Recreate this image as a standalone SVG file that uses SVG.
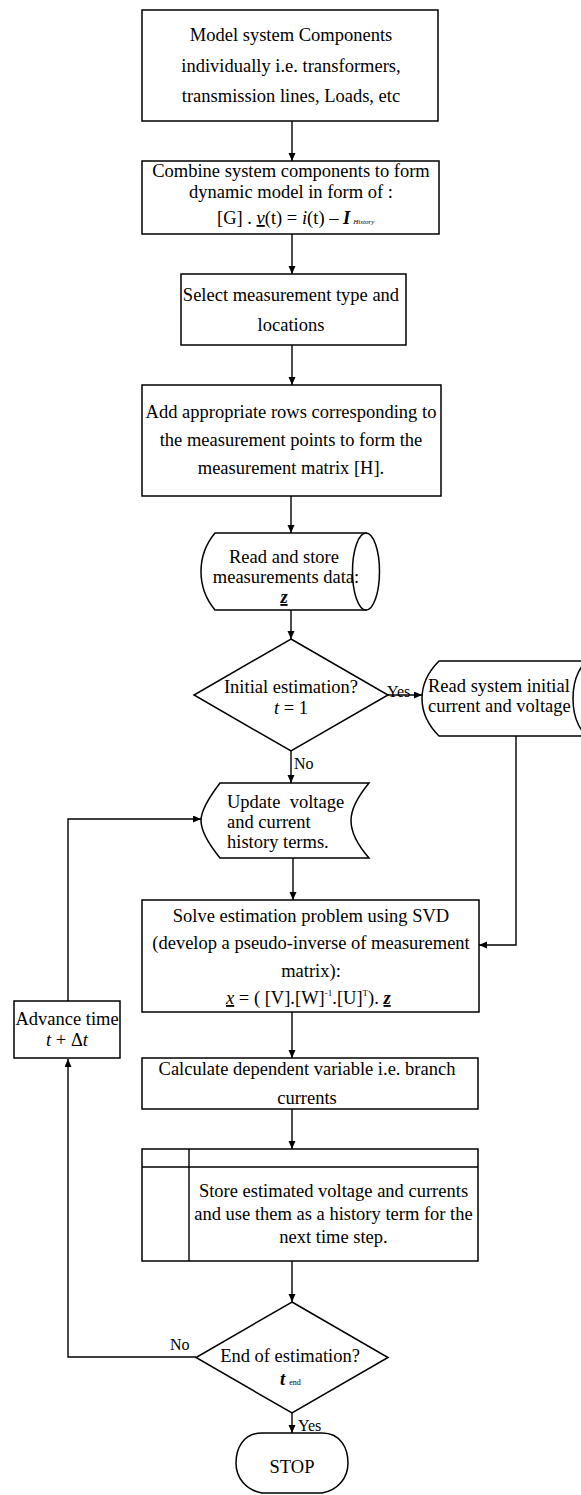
<svg xmlns="http://www.w3.org/2000/svg" width="581" height="1495" viewBox="0 0 581 1495">
<style>
.s{fill:#fff;stroke:#000;stroke-width:1.5}
.c{fill:none;stroke:#000;stroke-width:1.4}
text{font-family:"Liberation Serif","Times New Roman",serif;font-size:18.5px;fill:#000}
.m{text-anchor:middle}
.sm{font-size:16px}
.i{font-style:italic}
</style>
<defs>
<marker id="ah" markerWidth="9" markerHeight="8" refX="8" refY="3.5" orient="auto" markerUnits="userSpaceOnUse">
<path d="M0,0 L8,3.5 L0,7 Z" fill="#000"/>
</marker>
</defs>
<rect width="581" height="1495" fill="#fff"/>

<g id="connectors" class="c" marker-end="url(#ah)">
<path d="M292,121 V161"/>
<path d="M292,234 V274"/>
<path d="M292,345 V385"/>
<path d="M291,496 V533"/>
<path d="M291,610 V639"/>
<path d="M388,695 H422"/>
<path d="M291,751 V783"/>
<path d="M516,736 V945 H479"/>
<path d="M68,1001 V819 H201"/>
<path d="M293,858 V900"/>
<path d="M292,1012 V1058"/>
<path d="M292,1109 V1149"/>
<path d="M292,1261 V1302"/>
<path d="M196,1357 H68 V1059"/>
<path d="M292,1413 V1433"/>
</g>

<g id="n1">
<rect class="s" x="142" y="10" width="296" height="111"/>
<text class="m" x="291" y="41">Model system Components</text>
<text class="m" x="291" y="72">individually i.e. transformers,</text>
<text class="m" x="291" y="102">transmission lines, Loads, etc</text>
</g>

<g id="n2">
<rect class="s" x="142" y="161" width="297" height="73"/>
<text class="m" x="291" y="177">Combine system components to form</text>
<text class="m" x="291" y="198">dynamic model in form of :</text>
<text x="217" y="224">[G] . <tspan class="i" text-decoration="underline">v</tspan>(t) = <tspan class="i">i</tspan>(t) – <tspan class="i" font-weight="bold">I</tspan><tspan class="i" font-size="7" dx="3">History</tspan></text>
</g>

<g id="n3">
<rect class="s" x="181" y="274" width="225" height="71"/>
<text class="m" x="291" y="301" font-size="16.5">Select measurement type and</text>
<text class="m" x="291" y="331" font-size="16.5">locations</text>
</g>

<g id="n4">
<rect class="s" x="142" y="385" width="299" height="111"/>
<text class="m" x="291" y="418">Add appropriate rows corresponding to</text>
<text class="m" x="291" y="446">the measurement points to form the</text>
<text class="m" x="291" y="474">measurement matrix [H].</text>
</g>

<g id="n5">
<path class="s" d="M215,533 H366 V610 H215 C205,598 201,583 201,571.5 C201,560 205,545 215,533 Z"/>
<ellipse class="s" cx="366" cy="571.5" rx="13.5" ry="38.5"/>
<text class="m" x="284" y="563">Read and store</text>
<text class="m" x="286" y="583">measurements data:</text>
<text class="m i" x="284" y="603" text-decoration="underline" font-weight="bold">z</text>
</g>

<g id="n6">
<path class="s" d="M291,639 L388,695 L291,751 L194,695 Z"/>
<text class="m" x="291" y="693">Initial estimation?</text>
<text class="m" x="291" y="714"><tspan class="i">t</tspan> = 1</text>
</g>

<g id="n7">
<path class="s" d="M439,661 H600 V736 H439 C428,725 422,712 422,698.5 C422,685 428,672 439,661 Z"/>
<ellipse class="s" cx="592" cy="698.5" rx="19" ry="37.5"/>
<text x="428" y="692">Read system initial</text>
<text x="428" y="712">current and voltage</text>
</g>

<g id="n8">
<path class="s" d="M220,783 H369 C355,800 351,812 351,820.5 C351,830 355,842 369,858 H220 C207,842 201,830 201,820.5 C201,812 207,800 220,783 Z"/>
<text x="227" y="808" xml:space="preserve">Update  voltage</text>
<text x="227" y="828">and current</text>
<text x="227" y="848">history terms.</text>
</g>

<g id="n9">
<rect class="s" x="142" y="900" width="337" height="112"/>
<text class="m" x="311" y="922">Solve estimation problem using SVD</text>
<text class="m" x="311" y="949">(develop a pseudo-inverse of measurement</text>
<text class="m" x="311" y="977">matrix):</text>
<text x="226" y="1004"><tspan class="i" text-decoration="underline">x</tspan> = ( [V].[W]<tspan font-size="9" dy="-8">-1</tspan><tspan dy="8">.[U]</tspan><tspan font-size="9" dy="-8">T</tspan><tspan dy="8">). </tspan><tspan class="i" font-weight="bold" text-decoration="underline">z</tspan></text>
</g>

<g id="n10">
<rect class="s" x="14" y="1001" width="106" height="57"/>
<text class="m" x="67" y="1025">Advance time</text>
<text class="m" x="67" y="1046"><tspan class="i">t</tspan> + Δ<tspan class="i">t</tspan></text>
</g>

<g id="n11">
<rect class="s" x="142" y="1058" width="336" height="51"/>
<text class="m" x="307" y="1075">Calculate dependent variable i.e. branch</text>
<text class="m" x="307" y="1104">currents</text>
</g>

<g id="n12">
<rect class="s" x="142" y="1149" width="336" height="112"/>
<path class="c" d="M142,1167 H478 M189,1149 V1261"/>
<text class="m" x="333.5" y="1197">Store estimated voltage and currents</text>
<text class="m" x="333.5" y="1220">and use them as a history term for the</text>
<text class="m" x="333.5" y="1243">next time step.</text>
</g>

<g id="n13">
<path class="s" d="M292,1302 L388,1357.5 L292,1413 L196,1357.5 Z"/>
<text class="m" x="290" y="1362">End of estimation?</text>
<text x="280" y="1385"><tspan class="i" font-weight="bold">t</tspan><tspan font-size="8" dx="4">end</tspan></text>
</g>

<g id="n14">
<path class="s" d="M262,1433 H322 C342,1433 348,1450 348,1463 C348,1478 338,1490 322,1493 H262 C246,1490 236,1478 236,1463 C236,1450 242,1433 262,1433 Z"/>
<text class="m" x="292" y="1473">STOP</text>
</g>

<g id="labels">
<text class="sm" x="387" y="697">Yes</text>
<text class="sm" x="294" y="769">No</text>
<text class="sm" x="170" y="1350">No</text>
<text class="sm" x="298" y="1431">Yes</text>
</g>
</svg>
